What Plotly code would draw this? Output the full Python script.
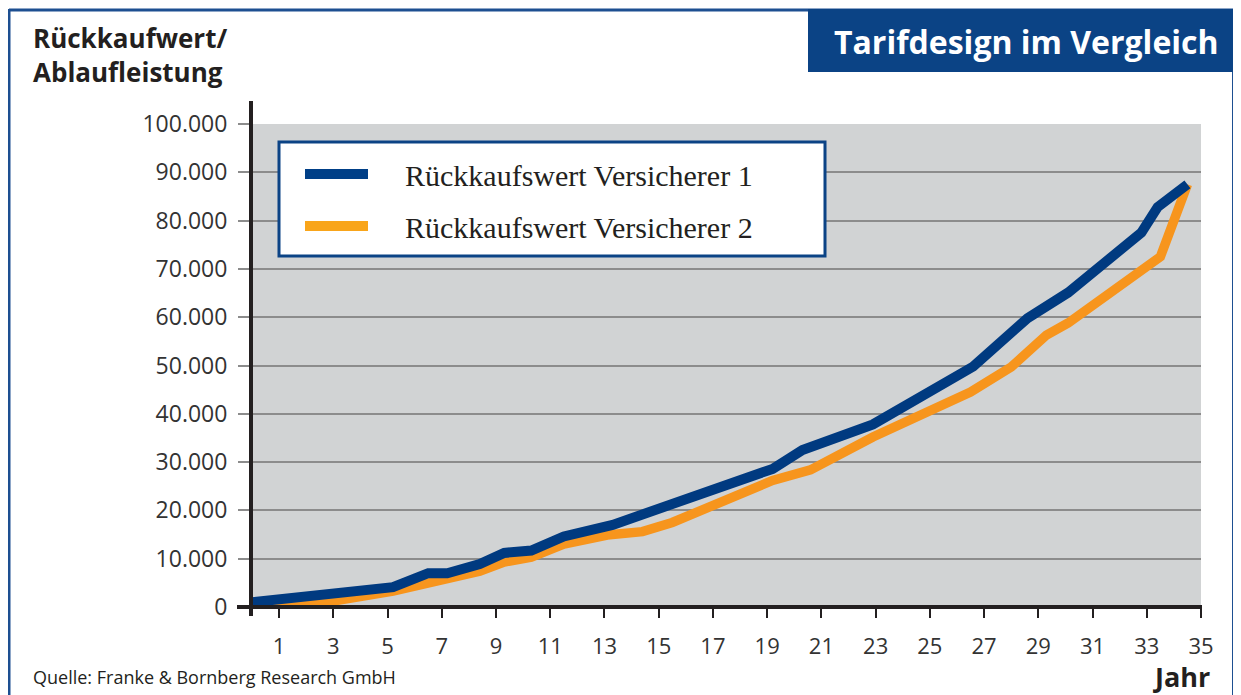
import plotly.graph_objects as go

# ---------------- data ----------------
series_names = ["Rückkaufswert Versicherer 1", "Rückkaufswert Versicherer 2"]

years_v1 = [0, 1.9, 5.2, 6.5, 7.2, 8.4, 9.3, 10.3, 11.5, 13.3, 19.2, 20.3,
            22.9, 26.6, 28.6, 30.1, 32.8, 33.4, 34.5]
values_v1 = [1000, 2000, 4100, 7000, 7000, 8900, 11200, 11700, 14600, 17000,
             28600, 32500, 37800, 49800, 59800, 65100, 77500, 82800, 87500]

years_v2 = [0, 2.0, 5.2, 6.5, 7.2, 8.4, 9.3, 10.3, 11.5, 13.1, 14.4, 15.5,
            19.2, 20.6, 22.9, 26.5, 28.0, 29.3, 30.1, 33.5, 34.5]
values_v2 = [0, 300, 3300, 5000, 5600, 7400, 9300, 10300, 13000, 14900, 15600,
             17500, 26200, 28400, 35200, 44500, 49700, 56300, 58800, 72500, 87500]

x_ticks = list(range(1, 36, 2))
y_ticks = list(range(0, 100001, 10000))

title_text = "Tarifdesign im Vergleich"
y_title_lines = ["Rückkaufwert/", "Ablaufleistung"]
x_title = "Jahr"
source_text = "Quelle: Franke & Bornberg Research GmbH"

# ---------------- styles ----------------
BLUE = "#003a80"
ORANGE = "#f7951d"
NAVY_BOX = "#0b4385"
FRAME = "#1d4f91"
TXT = "#231f20"
SANS = "Open Sans"
SERIF = "Liberation Serif"

OFF = 8  # page body margin of the html page
W, H = 1241 - OFF, 695 - OFF
# plot area in screen pixels
SL, SR, ST, SB = 252, 1201, 124, 607
L, R, T, B = SL - OFF, SR - OFF, ST - OFF, SB - OFF


def px(xs):
    return (xs - SL) / (SR - SL)


def py(ys):
    return (SB - ys) / (SB - ST)


fig = go.Figure()
fig.add_trace(go.Scatter(x=years_v2, y=values_v2, mode="lines", name=series_names[1],
                         line=dict(color=ORANGE, width=9.5), hoverinfo="skip"))
fig.add_trace(go.Scatter(x=years_v1, y=values_v1, mode="lines", name=series_names[0],
                         line=dict(color=BLUE, width=10), hoverinfo="skip"))

shapes = []
# page frame
shapes.append(dict(type="line", xref="paper", yref="paper", x0=px(9), x1=px(1250), y0=py(10), y1=py(10),
                   line=dict(color=FRAME, width=3)))
shapes.append(dict(type="line", xref="paper", yref="paper", x0=px(9), x1=px(9), y0=py(9), y1=py(720),
                   line=dict(color=FRAME, width=3)))
shapes.append(dict(type="line", xref="paper", yref="paper", x0=px(1233), x1=px(1233), y0=py(70), y1=py(720),
                   line=dict(color=FRAME, width=2)))
# title box
shapes.append(dict(type="rect", xref="paper", yref="paper", x0=px(808), x1=px(1260), y0=py(72), y1=py(9),
                   fillcolor=NAVY_BOX, line=dict(width=0)))
# axis lines
shapes.append(dict(type="line", xref="paper", yref="paper", x0=px(251), x1=px(251), y0=py(101), y1=py(616),
                   line=dict(color=TXT, width=4)))
shapes.append(dict(type="line", xref="paper", yref="paper", x0=px(237), x1=px(1202), y0=py(607), y1=py(607),
                   line=dict(color=TXT, width=4)))
# legend box
shapes.append(dict(type="rect", xref="paper", yref="paper", x0=px(279), x1=px(825), y0=py(256), y1=py(142),
                   fillcolor="white", line=dict(color=NAVY_BOX, width=3)))
legend_rows = [(series_names[0], "#003f87", 174), (series_names[1], "#f9a51a", 226)]
annotations = []
for name, col, yy in legend_rows:
    shapes.append(dict(type="line", xref="paper", yref="paper", x0=px(305), x1=px(368), y0=py(yy), y1=py(yy),
                       line=dict(color=col, width=10)))
    annotations.append(dict(text=name, xref="paper", yref="paper", x=px(403), y=py(yy + 1),
                            xanchor="left", yanchor="middle", showarrow=False,
                            font=dict(family=SERIF, size=30, color=TXT)))

# title
annotations.append(dict(text="<b>" + title_text + "</b>", xref="paper", yref="paper", x=px(1026), y=py(42),
                        xanchor="center", yanchor="middle", showarrow=False,
                        font=dict(family=SANS, size=32, color="white")))
# y title (two lines)
annotations.append(dict(text="<b>" + "<br>".join(y_title_lines) + "</b>", xref="paper", yref="paper",
                        x=px(31), y=py(55), xanchor="left", yanchor="middle", align="left",
                        showarrow=False, font=dict(family=SANS, size=26, color=TXT)))
# x title
annotations.append(dict(text="<b>" + x_title + "</b>", xref="paper", yref="paper", x=px(1212), y=py(676),
                        xanchor="right", yanchor="middle", showarrow=False,
                        font=dict(family=SANS, size=27, color=TXT)))
# source
annotations.append(dict(text=source_text, xref="paper", yref="paper", x=px(31), y=py(677),
                        xanchor="left", yanchor="middle", showarrow=False,
                        font=dict(family=SANS, size=18, color=TXT)))

fig.update_layout(
    width=W, height=H,
    margin=dict(l=L, r=W - R, t=T, b=H - B, pad=0),
    paper_bgcolor="white", plot_bgcolor="#d1d3d4",
    showlegend=False,
    separators=",.",
    shapes=shapes, annotations=annotations,
    font=dict(family=SANS, color=TXT),
)
fig.update_xaxes(range=[0, 35], tickvals=x_ticks, ticks="outside", ticklen=10, tickwidth=2,
                 tickcolor=TXT, showgrid=False, zeroline=False, showline=False,
                 tickfont=dict(family=SANS, size=22, color="#333333"), ticklabelstandoff=10)
fig.update_yaxes(range=[0, 100000], tickvals=y_ticks, tickformat=",d", ticks="outside", ticklen=13,
                 tickwidth=2, tickcolor="#8c8c8c", showgrid=True, gridcolor="#8c8c8c", gridwidth=2,
                 zeroline=False, showline=False,
                 tickfont=dict(family=SANS, size=23, color="#333333"), ticklabelstandoff=6)

fig.write_html("out.html")
